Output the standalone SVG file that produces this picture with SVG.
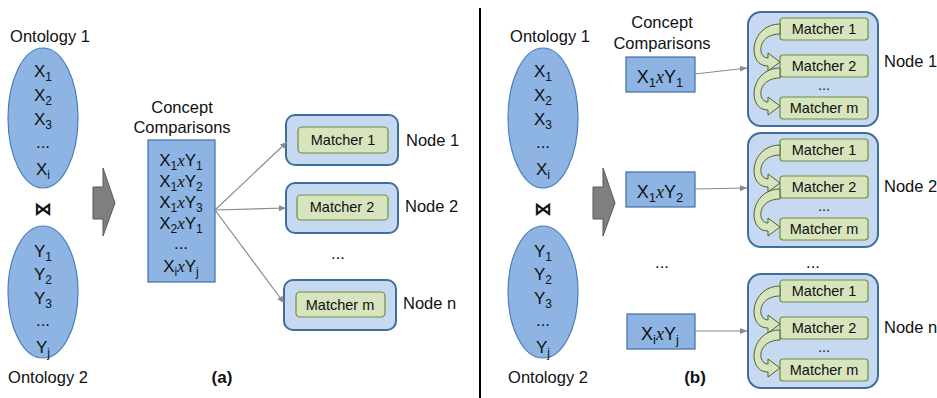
<svg xmlns="http://www.w3.org/2000/svg" xmlns:xlink="http://www.w3.org/1999/xlink" width="937" height="398" viewBox="0 0 937 398">
<style>
text{font-family:"Liberation Sans","DejaVu Sans",sans-serif;fill:#111;}
.lbl{font-size:16.5px;}
.itm{font-size:17px;text-anchor:middle;}
.mid{text-anchor:middle;}
.m{font-size:14.5px;text-anchor:middle;}
.x{font-family:"Liberation Serif",serif;font-style:italic;}
.ell{fill:#8eb4e3;stroke:#4a7ebb;stroke-width:1.2;}
.cbox{fill:#8eb4e3;stroke:#3f6fa5;stroke-width:1.2;}
.node{fill:#c6d9f1;stroke:#3d6e9e;stroke-width:2;}
.mat{fill:#d7e4bd;stroke:#6f8f3f;stroke-width:1.2;}
.garrow{fill:#7f7f7f;stroke:#595959;stroke-width:1;}
.conn{stroke:#8a8a8a;stroke-width:1.2;fill:none;marker-end:url(#ah);}
.curv{fill:#d7e4bd;stroke:#4f6228;stroke-width:1;}
.join{font-family:"DejaVu Sans",sans-serif;font-size:18px;font-weight:bold;text-anchor:middle;}
</style>
<defs>
<marker id="ah" markerWidth="8" markerHeight="8" refX="7" refY="4" orient="auto" markerUnits="userSpaceOnUse">
<path d="M0,1 L7,4 L0,7 Z" fill="#8a8a8a"/>
</marker>
<path id="carrow" class="curv" d="M 780 12 C 750 12 746 54 768 54 L 768 59 L 780 50 L 768 41 L 768 46 C 757 46 757 22 780 22 Z"/>
<g id="rnode">
<rect class="node" x="748" y="0" width="130" height="114" rx="13"/>
<rect class="mat" x="780" y="6" width="88" height="22" rx="3"/>
<rect class="mat" x="780" y="43" width="88" height="22" rx="3"/>
<rect class="mat" x="780" y="85" width="88" height="22" rx="3"/>
<use xlink:href="#carrow"/>
<use xlink:href="#carrow" transform="translate(0,44)"/>
<text class="m" x="824" y="22">Matcher 1</text>
<text class="m" x="824" y="59">Matcher 2</text>
<text class="m" x="824" y="78">...</text>
<text class="m" x="824" y="101">Matcher m</text>
</g>
</defs>

<!-- divider -->
<line x1="480" y1="8" x2="480" y2="398" stroke="#000" stroke-width="2"/>

<!-- ===== (a) ===== -->
<g id="a-ontology1">
<text class="lbl mid" x="50" y="42">Ontology 1</text>
<ellipse class="ell" cx="43" cy="118" rx="35" ry="70"/>
<text class="itm" x="43" y="77">X<tspan font-size="12" dy="4">1</tspan></text>
<text class="itm" x="43" y="101">X<tspan font-size="12" dy="4">2</tspan></text>
<text class="itm" x="43" y="125">X<tspan font-size="12" dy="4">3</tspan></text>
<text class="itm" x="43" y="148">...</text>
<text class="itm" x="43" y="175">X<tspan font-size="12" dy="4">i</tspan></text>
</g>
<g id="a-join"><text class="join" x="43" y="215">⋈</text></g>
<g id="a-ontology2">
<ellipse class="ell" cx="43" cy="292" rx="35" ry="66"/>
<text class="itm" x="43" y="257">Y<tspan font-size="12" dy="4">1</tspan></text>
<text class="itm" x="43" y="280">Y<tspan font-size="12" dy="4">2</tspan></text>
<text class="itm" x="43" y="304">Y<tspan font-size="12" dy="4">3</tspan></text>
<text class="itm" x="43" y="326">...</text>
<text class="itm" x="43" y="353">Y<tspan font-size="12" dy="4">j</tspan></text>
<text class="lbl mid" x="48" y="383">Ontology 2</text>
</g>
<g id="a-arrow"><path class="garrow" d="M93,187 L103,187 L103,168 L115,203 L103,236 L103,219 L93,219 Z"/></g>
<g id="a-concepts">
<text class="lbl mid" x="182" y="113">Concept</text>
<text class="lbl mid" x="182" y="133">Comparisons</text>
<rect class="cbox" x="148" y="140" width="67" height="142"/>
<text class="itm" x="181" y="166">X<tspan font-size="12" dy="4">1</tspan><tspan class="x" dy="-4">x</tspan>Y<tspan font-size="12" dy="4">1</tspan></text>
<text class="itm" x="181" y="187">X<tspan font-size="12" dy="4">1</tspan><tspan class="x" dy="-4">x</tspan>Y<tspan font-size="12" dy="4">2</tspan></text>
<text class="itm" x="181" y="208">X<tspan font-size="12" dy="4">1</tspan><tspan class="x" dy="-4">x</tspan>Y<tspan font-size="12" dy="4">3</tspan></text>
<text class="itm" x="181" y="229">X<tspan font-size="12" dy="4">2</tspan><tspan class="x" dy="-4">x</tspan>Y<tspan font-size="12" dy="4">1</tspan></text>
<text class="itm" x="181" y="249">...</text>
<text class="itm" x="181" y="272">X<tspan font-size="12" dy="4">i</tspan><tspan class="x" dy="-4">x</tspan>Y<tspan font-size="12" dy="4">j</tspan></text>
</g>
<g id="a-node1">
<rect class="node" x="286" y="115" width="112" height="50" rx="9"/>
<rect class="mat" x="298" y="127" width="90" height="26" rx="4"/>
<text class="m" x="343" y="145">Matcher 1</text>
<text class="lbl" x="406" y="146">Node 1</text>
</g>
<g id="a-node2">
<rect class="node" x="286" y="183" width="112" height="50" rx="9"/>
<rect class="mat" x="297" y="195" width="91" height="25" rx="4"/>
<text class="m" x="342" y="212">Matcher 2</text>
<text class="lbl" x="405" y="212">Node 2</text>
</g>
<text class="lbl mid" x="338" y="259">...</text>
<g id="a-noden">
<rect class="node" x="284" y="280" width="112" height="50" rx="9"/>
<rect class="mat" x="296" y="292" width="89" height="25" rx="4"/>
<text class="m" x="340" y="310">Matcher m</text>
<text class="lbl" x="403" y="309">Node n</text>
</g>
<text class="mid" x="222" y="383" font-size="17" font-weight="bold">(a)</text>

<!-- ===== (b) ===== -->
<g id="b-ontology1">
<text class="lbl mid" x="550" y="42">Ontology 1</text>
<ellipse class="ell" cx="543" cy="118" rx="35" ry="70"/>
<text class="itm" x="543" y="77">X<tspan font-size="12" dy="4">1</tspan></text>
<text class="itm" x="543" y="101">X<tspan font-size="12" dy="4">2</tspan></text>
<text class="itm" x="543" y="125">X<tspan font-size="12" dy="4">3</tspan></text>
<text class="itm" x="543" y="148">...</text>
<text class="itm" x="543" y="175">X<tspan font-size="12" dy="4">i</tspan></text>
</g>
<g id="b-join"><text class="join" x="543" y="215">⋈</text></g>
<g id="b-ontology2">
<ellipse class="ell" cx="543" cy="292" rx="35" ry="66"/>
<text class="itm" x="543" y="257">Y<tspan font-size="12" dy="4">1</tspan></text>
<text class="itm" x="543" y="280">Y<tspan font-size="12" dy="4">2</tspan></text>
<text class="itm" x="543" y="304">Y<tspan font-size="12" dy="4">3</tspan></text>
<text class="itm" x="543" y="326">...</text>
<text class="itm" x="543" y="353">Y<tspan font-size="12" dy="4">j</tspan></text>
<text class="lbl mid" x="548" y="383">Ontology 2</text>
</g>
<g id="b-arrow"><path class="garrow" d="M593,187 L603,187 L603,168 L615,203 L603,236 L603,219 L593,219 Z"/></g>
<g id="b-concepts">
<text class="lbl mid" x="662" y="28">Concept</text>
<text class="lbl mid" x="662" y="49">Comparisons</text>
</g>
<g id="b-c1">
<rect class="cbox" x="626" y="57" width="69" height="35"/>
<text class="mid" x="660" y="83" font-size="18">X<tspan font-size="13" dy="4">1</tspan><tspan class="x" dy="-4">x</tspan>Y<tspan font-size="13" dy="4">1</tspan></text>
</g>
<g id="b-c2">
<rect class="cbox" x="626" y="172" width="69" height="35"/>
<text class="mid" x="660" y="198" font-size="18">X<tspan font-size="13" dy="4">1</tspan><tspan class="x" dy="-4">x</tspan>Y<tspan font-size="13" dy="4">2</tspan></text>
</g>
<text class="lbl mid" x="662" y="268">...</text>
<g id="b-c3">
<rect class="cbox" x="627" y="314" width="68" height="35"/>
<text class="mid" x="660" y="340" font-size="18">X<tspan font-size="13" dy="4">i</tspan><tspan class="x" dy="-4">x</tspan>Y<tspan font-size="13" dy="4">j</tspan></text>
</g>
<g id="b-node1">
<use xlink:href="#rnode" transform="translate(0,12)"/>
<text class="lbl" x="884" y="67">Node 1</text>
</g>
<g id="b-node2">
<use xlink:href="#rnode" transform="translate(0,133)"/>
<text class="lbl" x="884" y="192">Node 2</text>
</g>
<text class="lbl mid" x="813" y="268">...</text>
<g id="b-noden">
<use xlink:href="#rnode" transform="translate(0,274)"/>
<text class="lbl" x="884" y="333">Node n</text>
</g>
<text class="mid" x="695" y="383" font-size="17" font-weight="bold">(b)</text>

<!-- connectors -->
<g id="connectors">
<line class="conn" x1="215" y1="210" x2="287" y2="142"/>
<line class="conn" x1="215" y1="210" x2="286" y2="208"/>
<line class="conn" x1="215" y1="210" x2="284" y2="303"/>
<line class="conn" x1="695" y1="74" x2="747" y2="68"/>
<line class="conn" x1="695" y1="189" x2="747" y2="188"/>
<line class="conn" x1="695" y1="331" x2="747" y2="331"/>
</g>
</svg>
